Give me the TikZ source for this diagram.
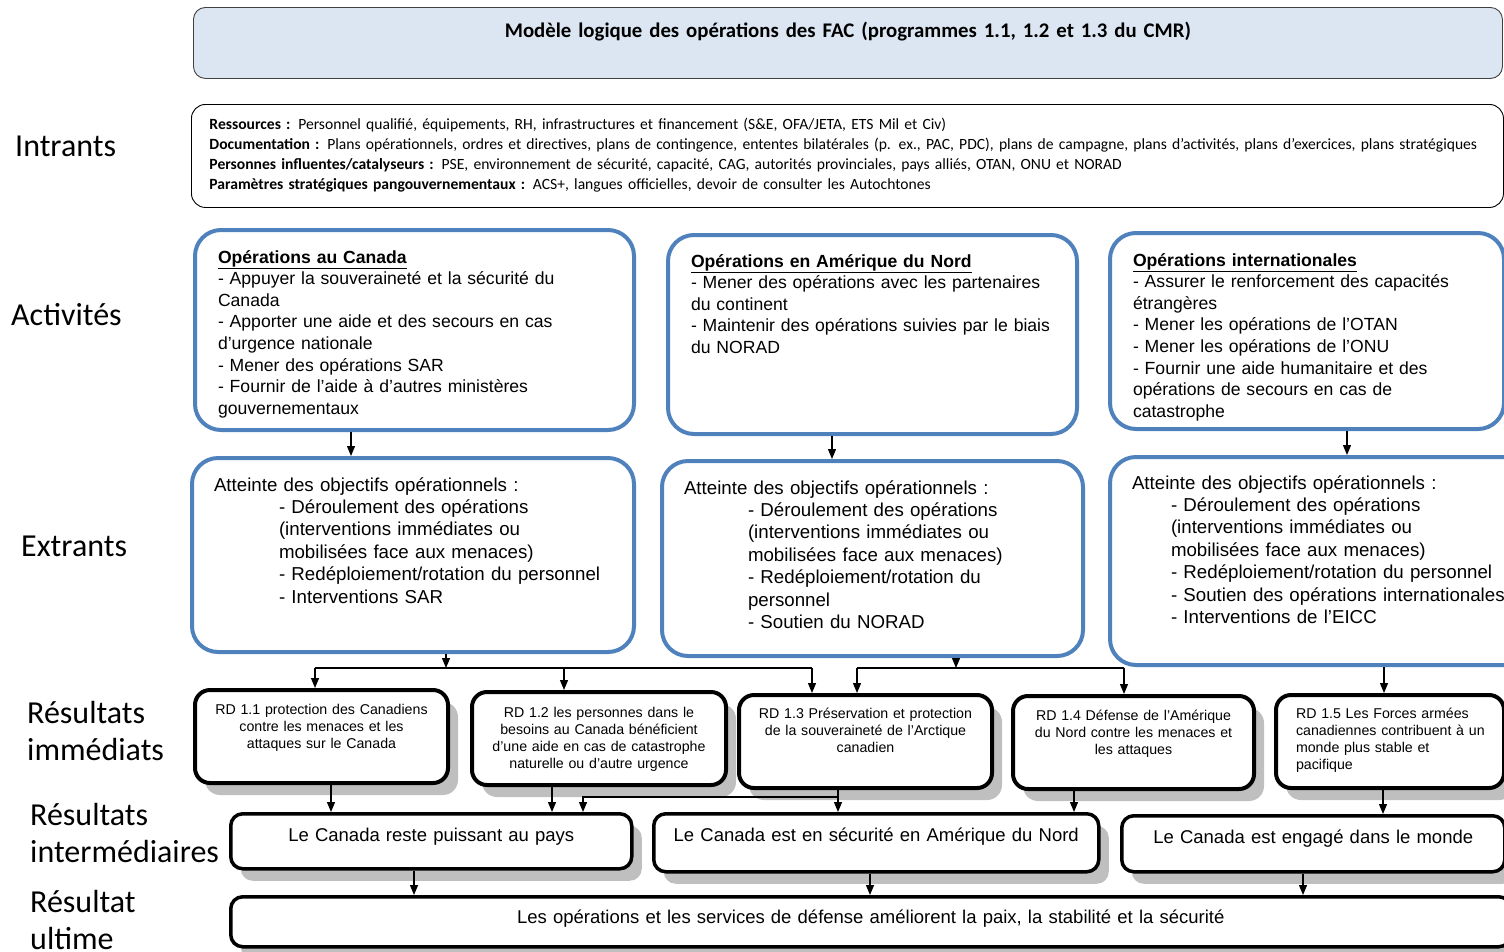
\documentclass[tikz,border=0pt]{standalone}
\usepackage{fontspec}
\setmainfont{Liberation Sans}
\newfontfamily\carlito{Carlito}
\usetikzlibrary{arrows.meta,shadows}

\definecolor{bleufac}{RGB}{79,129,189}
\definecolor{bleupale}{RGB}{220,230,242}
\definecolor{ombre}{RGB}{191,191,191}

\tikzset{
  fleche/.style={-{Triangle[length=10pt,width=8pt]}, line width=1.2pt},
  trait/.style={line width=1.2pt},
  cadre/.style={anchor=north west, inner ysep=0pt},
  entete/.style={cadre, draw=black!75, line width=0.9pt, rounded corners=12pt, fill=bleupale, inner xsep=0pt, align=center, font=\carlito\bfseries\fontsize{20.8}{24}\selectfont},
  intrant/.style={cadre, draw, line width=0.9pt, rounded corners=14pt, inner xsep=18pt, align=left, font=\carlito\fontsize{15.6}{19.7}\selectfont},
  activite/.style={cadre, draw=bleufac, line width=4pt, rounded corners=26pt, inner xsep=23pt, align=left, font=\fontsize{17.6}{21.6}\selectfont},
  extrant/.style={activite, inner xsep=22pt, font=\fontsize{18.7}{22.4}\selectfont},
  resimm/.style={cadre, draw, fill=white, line width=4pt, rounded corners=15pt, inner xsep=8pt, align=center, font=\fontsize{14.2}{17}\selectfont, drop shadow={shadow xshift=10pt, shadow yshift=-12pt, fill=ombre, opacity=1}},
  resint/.style={resimm, line width=3.5pt, rounded corners=12pt, font=\fontsize{18.5}{22}\selectfont},
  etiquette/.style={anchor=west, align=left, inner sep=0pt, font=\carlito\fontsize{32}{37.5}\selectfont},
}

\begin{document}
\begin{tikzpicture}[x=1pt, y=-1pt]

\useasboundingbox (0,0) rectangle (1504,951);
\clip (0,0) rectangle (1504,951);

% En-tete
\node[entete, text width=1309pt, text height=30pt, text depth=41pt] (titre) at (193,7)
  {Modèle logique des opérations des FAC (programmes 1.1, 1.2 et 1.3 du CMR)};

% Intrants
\node[intrant, text width=1276pt, text height=25.5pt, text depth=77.5pt] (intr) at (191,104)
  {\textbf{Ressources :} Personnel qualifié, équipements, RH, infrastructures et financement (S\&E, OFA/JETA, ETS Mil et Civ)\\
   \mbox{\textbf{Documentation :} Plans opérationnels, ordres et directives, plans de contingence, ententes bilatérales (p. ex., PAC, PDC), plans de campagne, plans d’activités, plans d’exercices, plans stratégiques}\\
   \textbf{Personnes influentes/catalyseurs :} PSE, environnement de sécurité, capacité, CAG, autorités provinciales, pays alliés, OTAN, ONU et NORAD\\
   \textbf{Paramètres stratégiques pangouvernementaux :} ACS+, langues officielles, devoir de consulter les Autochtones};

% Etiquettes a gauche
\node[etiquette] (lintr) at (15,146) {Intrants};
\node[etiquette] (lact) at (11,315) {Activités};
\node[etiquette] (lextr) at (21,546) {Extrants};
\node[etiquette] (limm) at (27,731) {Résultats\\immédiats};
\node[etiquette] (linter) at (30,833) {Résultats\\intermédiaires};
\node[etiquette] (lult) at (30,920) {Résultat\\ultime};

% Activites
\node[activite, text width=393pt, text height=33pt, text depth=167pt] (A1) at (193,228)
  {\underline{\textbf{Opérations au Canada}}\\
   - Appuyer la souveraineté et la sécurité du\\ Canada\\
   - Apporter une aide et des secours en cas\\ d’urgence nationale\\
   - Mener des opérations SAR\\
   - Fournir de l’aide à d’autres ministères\\ gouvernementaux};
\node[activite, text width=363pt, text height=32pt, text depth=167pt] (A2) at (666,233)
  {\underline{\textbf{Opérations en Amérique du Nord}}\\
   - Mener des opérations avec les partenaires\\ du continent\\
   - Maintenir des opérations suivies par le biais\\ du NORAD};
\node[activite, text width=348pt, text height=33pt, text depth=163pt] (A3) at (1108,231)
  {\underline{\textbf{Opérations internationales}}\\
   - Assurer le renforcement des capacités\\ étrangères\\
   - Mener les opérations de l’OTAN\\
   - Mener les opérations de l’ONU\\
   - Fournir une aide humanitaire et des\\ opérations de secours en cas de\\ catastrophe};

% Extrants
\node[extrant, text width=398pt, text height=33pt, text depth=161pt] (E1) at (190,456)
  {Atteinte des objectifs opérationnels :\\
   \hspace*{65pt}- Déroulement des opérations\\
   \hspace*{65pt}(interventions immédiates ou\\
   \hspace*{65pt}mobilisées face aux menaces)\\
   \hspace*{65pt}- Redéploiement/rotation du personnel\\
   \hspace*{65pt}- Interventions SAR};
\node[extrant, text width=377pt, text height=33pt, text depth=162pt] (E2) at (660,459)
  {Atteinte des objectifs opérationnels :\\
   \hspace*{64pt}- Déroulement des opérations\\
   \hspace*{64pt}(interventions immédiates ou\\
   \hspace*{64pt}mobilisées face aux menaces)\\
   \hspace*{64pt}- Redéploiement/rotation du\\
   \hspace*{64pt}personnel\\
   \hspace*{64pt}- Soutien du NORAD};
\node[extrant, text width=388pt, text height=32pt, text depth=176pt] (E3) at (1108,455)
  {Atteinte des objectifs opérationnels :\\
   \hspace*{39pt}- Déroulement des opérations\\
   \hspace*{39pt}(interventions immédiates ou\\
   \hspace*{39pt}mobilisées face aux menaces)\\
   \hspace*{39pt}- Redéploiement/rotation du personnel\\
   \hspace*{39pt}- Soutien des opérations internationales\\
   \hspace*{39pt}- Interventions de l’EICC};

% Resultats immediats
\node[resimm, text width=237pt, text height=24pt, text depth=69pt] (R1) at (193,688)
  {RD 1.1 protection des Canadiens\\ contre les menaces et les\\ attaques sur le Canada};
\node[resimm, text width=238pt, text height=25pt, text depth=68pt] (R2) at (470,690)
  {RD 1.2 les personnes dans le\\ besoins au Canada bénéficient\\ d’une aide en cas de catastrophe\\ naturelle ou d’autre urgence};
\node[resimm, text width=237pt, text height=23pt, text depth=70pt] (R3) at (737,693)
  {RD 1.3 Préservation et protection\\ de la souveraineté de l’Arctique\\ canadien};
\node[resimm, text width=225pt, text height=24pt, text depth=69pt] (R4) at (1011,694)
  {RD 1.4 Défense de l’Amérique\\ du Nord contre les menaces et\\ les attaques};
\node[resimm, align=left, inner xsep=10pt, text width=208pt, text height=23pt, text depth=70pt] (R5) at (1274,693)
  {\hspace*{10pt}RD 1.5 Les Forces armées\\
   \hspace*{10pt}canadiennes contribuent à un\\
   \hspace*{10pt}monde plus stable et\\
   \hspace*{10pt}pacifique};

% Resultats intermediaires
\node[resint, text width=385pt, text height=28pt, text depth=27pt] (I1) at (229,812)
  {Le Canada reste puissant au pays};
\node[resint, text width=429pt, text height=28pt, text depth=30pt] (I2) at (652,812)
  {Le Canada est en sécurité en Amérique du Nord};
\node[resint, text width=367pt, text height=28pt, text depth=28pt] (I3) at (1120,814)
  {Le Canada est engagé dans le monde};

% Resultat ultime
\node[resint, text width=1264pt, text height=27pt, text depth=23pt] (U) at (229,895)
  {Les opérations et les services de défense améliorent la paix, la stabilité et la sécurité};

% Fleches activites -> extrants
\foreach \x/\a/\e in {351/A1/E1, 832/A2/E2, 1347/A3/E3}
  \draw[fleche] (\x,0 |- \a.south) -- (\x,0 |- \e.north);

% Extrants -> resultats immediats
\coordinate (bus1) at (446,668);
\coordinate (bus2) at (956,668);
\draw[fleche] (bus1 |- E1.south) -- (bus1);
\draw[fleche] (bus2 |- E2.south) -- (bus2);
\draw[trait] (315,0 |- bus1) -- (812,0 |- bus1);
\draw[trait] (857,0 |- bus2) -- (1124,0 |- bus2);
\foreach \x/\r in {315/R1, 564/R2, 812/R3}
  \draw[fleche] (\x,0 |- bus1) -- (\x,0 |- \r.north);
\foreach \x/\r in {857/R3, 1124/R4}
  \draw[fleche] (\x,0 |- bus2) -- (\x,0 |- \r.north);
\draw[fleche] (1384,0 |- E3.south) -- (1384,0 |- R5.north);

% Resultats immediats -> intermediaires
\foreach \x/\r/\i in {331/R1/I1, 552/R2/I1, 838/R3/I2, 1074/R4/I2, 1383/R5/I3}
  \draw[fleche] (\x,0 |- \r.south) -- (\x,0 |- \i.north);
\coordinate (branche) at (838,797);
\draw[fleche] (branche) -| (583,0 |- I1.north);

% Intermediaires -> ultime
\foreach \x/\i in {414/I1, 870/I2, 1303/I3}
  \draw[fleche] (\x,0 |- \i.south) -- (\x,0 |- U.north);

\end{tikzpicture}
\end{document}
